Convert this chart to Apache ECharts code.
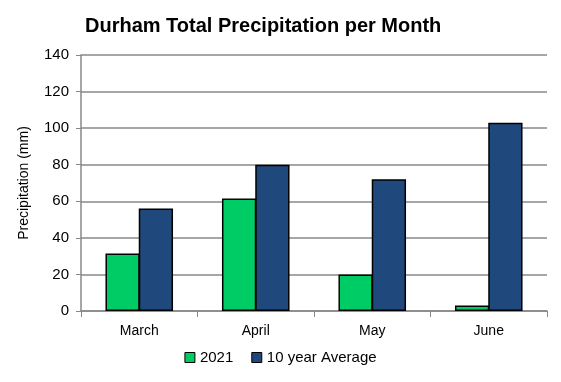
<!DOCTYPE html>
<html><head><meta charset="utf-8">
<script src="https://cdn.jsdelivr.net/npm/echarts@6/dist/echarts.min.js"></script>
<style>html,body{margin:0;padding:0;background:#fff}#c{width:561px;height:382px}</style>
</head><body><div id="c"></div>
<script>
const categories = ['March', 'April', 'May', 'June'];
const values2021 = [31.5, 61.5, 20, 3];
const valuesAvg = [56, 80, 72, 103];
const yTicks = [0, 20, 40, 60, 80, 100, 120, 140];

const font = 'Liberation Sans';
const chart = echarts.init(document.getElementById('c'));
chart.setOption({
  animation: false,
  backgroundColor: '#fff',
  title: {
    text: 'Durham Total Precipitation per Month',
    left: 80, top: 11,
    textStyle: { fontFamily: font, fontSize: 20, fontWeight: 'bold', color: '#000' }
  },
  legend: {
    bottom: 12, left: 'center',
    itemWidth: 10, itemHeight: 10, itemGap: 18,
    textStyle: { fontFamily: font, fontSize: 15, color: '#000' },
    data: [
      { name: '2021', icon: 'rect', itemStyle: { borderColor: '#000', borderWidth: 1 } },
      { name: '10 year Average', icon: 'rect', itemStyle: { borderColor: '#000', borderWidth: 1 } }
    ]
  },
  grid: { left: 81, right: 14, top: 55, bottom: 71 },
  xAxis: {
    type: 'category', data: categories,
    axisLine: { lineStyle: { color: '#888', width: 1.5 } },
    axisTick: { show: true, alignWithLabel: false, length: 6, lineStyle: { color: '#888' } },
    axisLabel: { fontFamily: font, fontSize: 14, color: '#000', margin: 13 }
  },
  yAxis: {
    type: 'value', min: yTicks[0], max: yTicks[yTicks.length - 1], interval: 20,
    name: 'Precipitation (mm)', nameLocation: 'middle', nameGap: 50,
    nameTextStyle: { fontFamily: font, fontSize: 14, color: '#000' },
    axisLine: { show: true, lineStyle: { color: '#888', width: 1.5 } },
    axisTick: { show: true, length: 5, lineStyle: { color: '#888' } },
    axisLabel: { fontFamily: font, fontSize: 15, color: '#000', margin: 12 },
    splitLine: { lineStyle: { color: '#888', width: 1.5 } }
  },
  series: [
    { name: '2021', type: 'bar', data: values2021, barGap: '-3%', barCategoryGap: '42%',
      itemStyle: { color: '#00CC66', borderColor: '#000', borderWidth: 1.5 } },
    { name: '10 year Average', type: 'bar', data: valuesAvg,
      itemStyle: { color: '#1F497D', borderColor: '#000', borderWidth: 1.5 } }
  ]
});
</script></body></html>
